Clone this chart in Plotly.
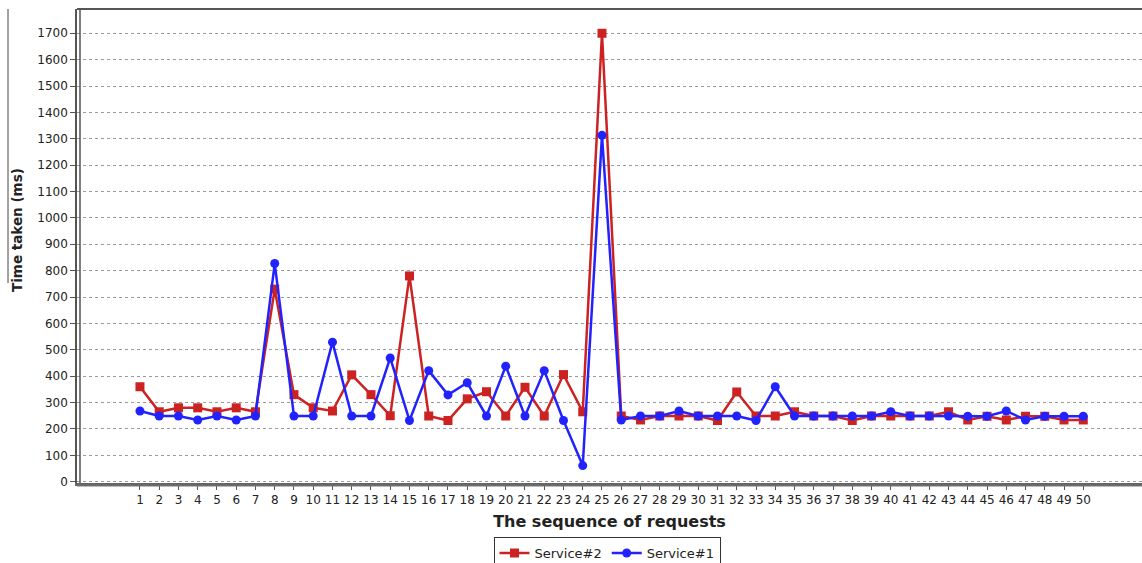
import plotly.graph_objects as go

requests = list(range(1, 51))
service2 = [360, 265, 280, 280, 265, 280, 265, 730, 330, 280,
            268, 405, 330, 250, 780, 249, 232, 314, 341, 249,
            358, 249, 406, 265, 1700, 249, 234, 249, 249, 249,
            232, 340, 249, 249, 265, 249, 249, 232, 249, 249,
            249, 249, 265, 234, 248, 234, 248, 248, 234, 234]
service1 = [268, 249, 249, 234, 249, 234, 249, 827, 249, 249,
            529, 249, 249, 469, 232, 421, 329, 375, 249, 438,
            249, 421, 232, 61, 1313, 234, 249, 249, 268, 249,
            249, 249, 232, 360, 249, 249, 249, 249, 249, 265,
            249, 249, 249, 248, 248, 268, 234, 248, 248, 248]
y_ticks = list(range(0, 1800, 100))

RED = "#cc2222"
BLUE = "#2222ff"
FONT = "DejaVu Sans"

fig = go.Figure()
fig.add_trace(go.Scatter(
    x=requests, y=service2, name="Service#2", mode="lines+markers",
    line=dict(color=RED, width=2.5),
    marker=dict(symbol="square", size=9, color=RED),
))
fig.add_trace(go.Scatter(
    x=requests, y=service1, name="Service#1", mode="lines+markers",
    line=dict(color=BLUE, width=2.5),
    marker=dict(symbol="circle", size=9, color=BLUE),
))

AX = "#555555"
fig.update_layout(
    width=1142, height=563,
    margin=dict(l=77, r=0, t=9, b=80, autoexpand=False),
    paper_bgcolor="white", plot_bgcolor="white",
    font=dict(family=FONT, size=12, color="#222"),
    showlegend=True,
    legend=dict(
        orientation="h", xref="container", yref="container",
        x=607 / 1142, xanchor="center", y=1 - 537 / 563, yanchor="top",
        bordercolor="#333", borderwidth=1, bgcolor="white",
        font=dict(family=FONT, size=13, color="#222"),
        itemwidth=30, tracegroupgap=0,
    ),
    xaxis=dict(
        range=[-2.27, 53.05], tickmode="array", tickvals=requests,
        ticktext=[str(r) for r in requests],
        showgrid=False, zeroline=False, automargin=False,
        showline=True, linecolor="#666", linewidth=2.5,
        ticks="outside", ticklen=4, tickcolor=AX,
        tickfont=dict(family=FONT, size=12, color="#222"),
        title=dict(text="<b>The sequence of requests</b>", standoff=10,
                   font=dict(family=FONT, size=16, color="#222")),
    ),
    yaxis=dict(
        range=[-5, 1792], tickmode="array", tickvals=y_ticks,
        showgrid=True, gridcolor="#9a9a9a", griddash="dot", gridwidth=1,
        zeroline=False, automargin=False,
        showline=True, linecolor=AX, linewidth=1.5,
        ticks="outside", ticklen=5, tickcolor=AX,
        tickfont=dict(family=FONT, size=12, color="#222"),
    ),
    annotations=[
        dict(text="<b>Time taken (ms)</b>", textangle=-90,
             xref="paper", yref="paper",
             x=(17 - 77) / 1065, y=(483 - 230) / 474,
             xanchor="center", yanchor="middle", showarrow=False,
             font=dict(family=FONT, size=13.5, color="#222")),
    ],
    shapes=[
        # inner left border
        dict(type="line", xref="paper", yref="paper", xsizemode="pixel",
             xanchor=0, x0=3, x1=3, y0=0, y1=1,
             line=dict(color=AX, width=1.5)),
        # top border
        dict(type="line", xref="paper", yref="paper", x0=0, x1=1, y0=1, y1=1,
             line=dict(color=AX, width=2)),
        # second bottom line
        dict(type="line", xref="paper", yref="paper", ysizemode="pixel",
             yanchor=0, y0=-3, y1=-3, x0=0, x1=1,
             line=dict(color="#777", width=1)),
        # frame artifact at far left
        dict(type="line", xref="paper", yref="paper", xsizemode="pixel",
             ysizemode="pixel", xanchor=0, yanchor=1,
             x0=-69, x1=-69, y0=0, y1=-274,
             line=dict(color="#444", width=1)),
    ],
)

fig.write_html("out.html", config={"displayModeBar": False},
               post_script="document.body.style.margin='0px';document.body.style.overflow='hidden';")
